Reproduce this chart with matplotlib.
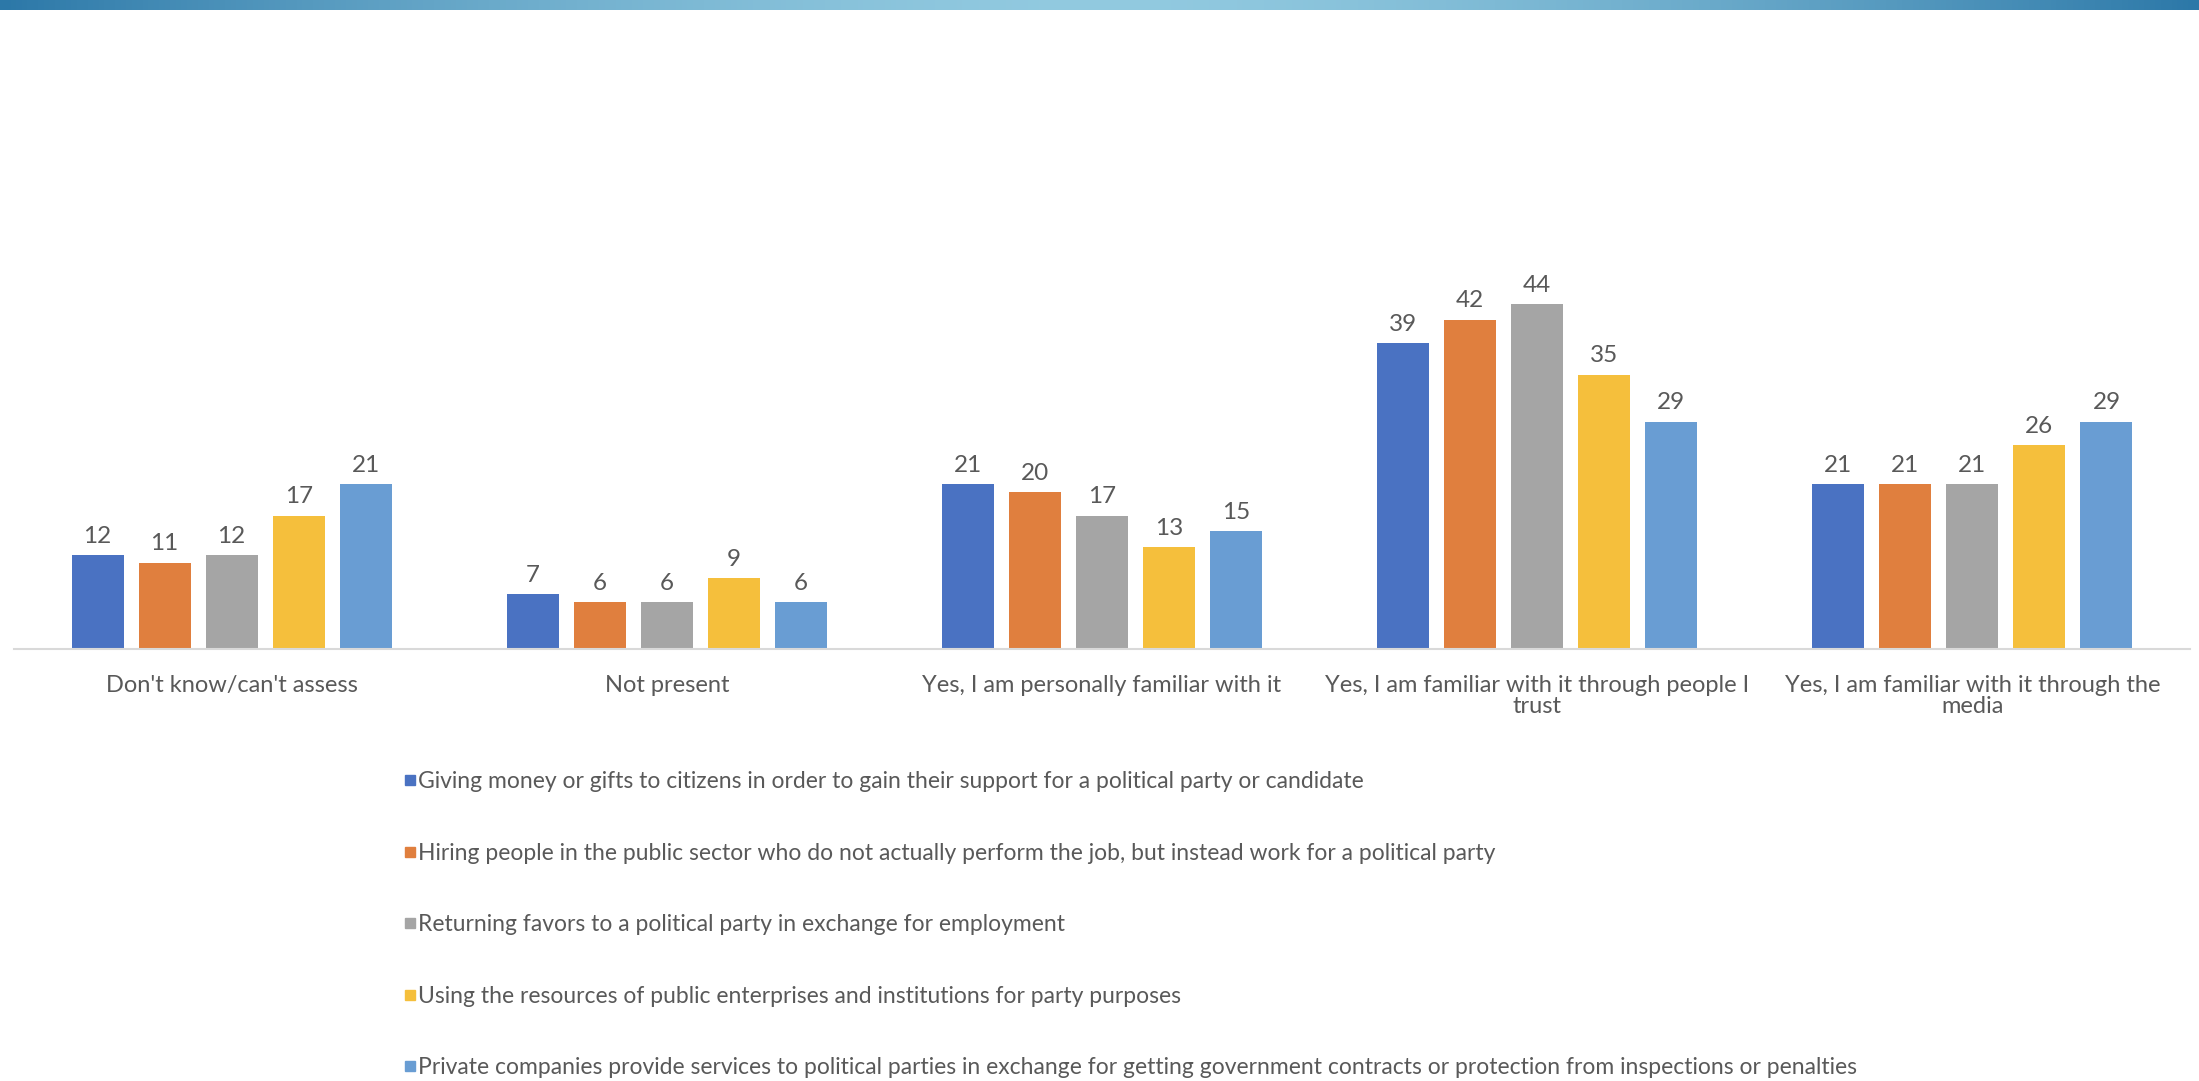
import matplotlib
matplotlib.use('Agg')

from matplotlib import pyplot as plt
from matplotlib.lines import Line2D
import numpy as np

plt.rcParams['font.family'] = ['Lato', 'DejaVu Sans']

# categories along the x axis
categories = [
    "Don't know/can't assess",
    "Not present",
    "Yes, I am personally familiar with it",
    "Yes, I am familiar with it through people I\ntrust",
    "Yes, I am familiar with it through the\nmedia",
]

# one list per practice (legend entry)
series_names = [
    "Giving money or gifts to citizens in order to gain their support for a political party or candidate",
    "Hiring people in the public sector who do not actually perform the job, but instead work for a political party",
    "Returning favors to a political party in exchange for employment",
    "Using the resources of public enterprises and institutions for party purposes",
    "Private companies provide services to political parties in exchange for getting government contracts or protection from inspections or penalties",
]
giving_money = [12, 7, 21, 39, 21]
hiring_people = [11, 6, 20, 42, 21]
returning_favors = [12, 6, 17, 44, 21]
using_resources = [17, 9, 13, 35, 26]
private_companies = [21, 6, 15, 29, 29]

series = [giving_money, hiring_people, returning_favors, using_resources, private_companies]
colors = ['#4A72C2', '#E07F3E', '#A5A5A5', '#F5BF3C', '#699DD3']
text_color = '#595959'

W, H = 2199, 1081
fig = plt.figure(figsize=(W / 100, H / 100), dpi=100)

# gradient band along the top edge
band = fig.add_axes([0, 1 - 10 / H, 1, 10 / H])
t = np.linspace(-1, 1, 400)
g = np.abs(t) ** 1.6
edge = np.array([0x2C, 0x78, 0xA8]) / 255
mid = np.array([0x92, 0xCA, 0xE0]) / 255
grad = (mid[None, :] * (1 - g[:, None]) + edge[None, :] * g[:, None])[None, :, :]
band.imshow(grad, aspect='auto', extent=[0, 1, 0, 1])
band.set_axis_off()

# main bar chart
ax = fig.add_axes([14 / W, (H - 649) / H, (2190 - 14) / W, 549 / H])
x = np.arange(len(categories))
step = 0.154
width = 0.1195
for i, vals in enumerate(series):
    bars = ax.bar(x + (i - 2) * step, vals, width, color=colors[i], label=series_names[i])
    for b, v in zip(bars, vals):
        ax.annotate(str(v), (b.get_x() + b.get_width() / 2, v),
                    xytext=(0, 6), textcoords='offset points',
                    ha='center', va='bottom', fontsize=17.5, color=text_color)

ax.set_xlim(-0.5, len(categories) - 0.5)
ax.set_ylim(0, 70)
ax.set_xticks(x)
ax.set_xticklabels(categories, fontsize=17, color=text_color, linespacing=1.0)
ax.tick_params(axis='x', length=0, pad=19)
ax.set_yticks([])
for s in ['top', 'left', 'right']:
    ax.spines[s].set_visible(False)
ax.spines['bottom'].set_color('#D9D9D9')
ax.spines['bottom'].set_linewidth(1.5)

handles = [Line2D([], [], marker='s', linestyle='none', color=c, markersize=7) for c in colors]
fig.legend(handles, series_names, loc='upper left',
           bbox_to_anchor=(393 / W, 1 - 760 / H), frameon=False,
           fontsize=16.5, labelcolor=text_color, handlelength=0.45,
           handletextpad=0.15, labelspacing=2.2, borderpad=0)

plt.savefig('out.png', dpi=100)
plt.close()
